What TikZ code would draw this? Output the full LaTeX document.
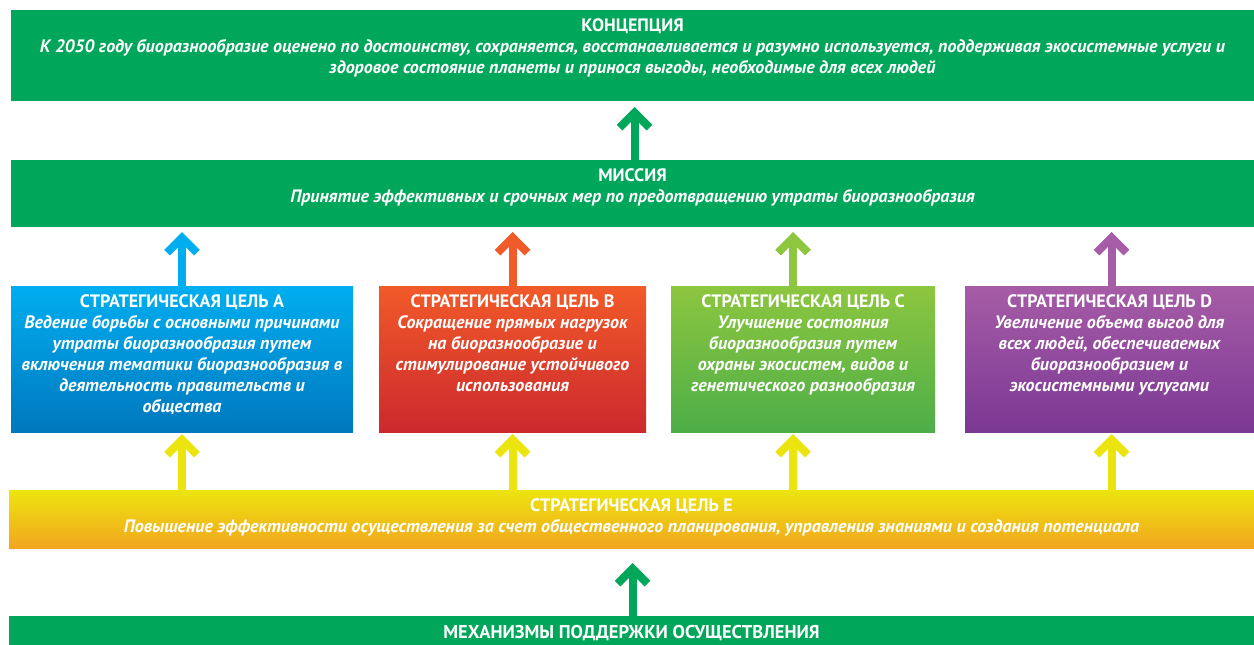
\documentclass[tikz,border=0pt]{standalone}
\usepackage{fontspec}
\setmainfont{PT Sans}
\usetikzlibrary{arrows.meta}
\definecolor{cgreen}{RGB}{0,166,90}
\definecolor{blueT}{RGB}{0,174,239}
\definecolor{blueB}{RGB}{0,120,190}
\definecolor{redT}{RGB}{241,90,41}
\definecolor{redB}{RGB}{204,41,46}
\definecolor{grnT}{RGB}{141,198,63}
\definecolor{grnB}{RGB}{77,174,72}
\definecolor{purT}{RGB}{166,92,166}
\definecolor{purB}{RGB}{123,56,148}
\definecolor{yelT}{RGB}{236,228,15}
\definecolor{yelB}{RGB}{242,166,31}
\begin{document}
\begin{tikzpicture}[x=1pt,y=-1pt,
  box/.style={rectangle, draw=none, inner sep=0pt, outer sep=0pt, anchor=north west},
  txt/.style={anchor=north, inner sep=0pt, align=center, text=white,
    font=\fontsize{18}{21}\selectfont\bfseries\itshape},
  arr/.style={line width=8pt, -{Straight Barb[length=15pt, width=30pt, line width=8pt, sharp]}}
]
\useasboundingbox (0,0) rectangle (1254,645);
% boxes
\node[box, fill=cgreen, minimum width=1243pt, minimum height=91pt] (concept) at (11,10) {};
\node[box, fill=cgreen, minimum width=1243pt, minimum height=67pt] (mission) at (11,160) {};
\node[box, top color=blueT, bottom color=blueB, minimum width=342pt, minimum height=146pt] (ga) at (11,286) {};
\node[box, top color=redT, bottom color=redB, minimum width=267pt, minimum height=146pt] (gb) at (379,286) {};
\node[box, top color=grnT, bottom color=grnB, minimum width=264pt, minimum height=146pt] (gc) at (671,286) {};
\node[box, top color=purT, bottom color=purB, minimum width=289pt, minimum height=146pt] (gd) at (965,286) {};
\node[box, top color=yelT, bottom color=yelB, minimum width=1245pt, minimum height=58pt] (ge) at (9,490) {};
\node[box, fill=cgreen, minimum width=1245pt, minimum height=29pt] (mech) at (9,616) {};
% texts
\node[txt] (conceptT) at ([yshift=-8pt]concept.north) {{\upshape КОНЦЕПЦИЯ}\\
К 2050 году биоразнообразие оценено по достоинству, сохраняется, восстанавливается и разумно используется, поддерживая экосистемные услуги и\\
здоровое состояние планеты и принося выгоды, необходимые для всех людей};
\node[txt] (missionT) at ([yshift=-8pt]mission.north) {{\upshape МИССИЯ}\\
Принятие эффективных и срочных мер по предотвращению утраты биоразнообразия};
\node[txt] (gaT) at ([yshift=-8pt]ga.north) {{\upshape СТРАТЕГИЧЕСКАЯ ЦЕЛЬ A}\\
Ведение борьбы с основными причинами\\ утраты биоразнообразия путем\\ включения тематики биоразнообразия в\\ деятельность правительств и\\ общества};
\node[txt] (gbT) at ([yshift=-8pt]gb.north) {{\upshape СТРАТЕГИЧЕСКАЯ ЦЕЛЬ B}\\
Сокращение прямых нагрузок\\ на биоразнообразие и\\ стимулирование устойчивого\\ использования};
\node[txt] (gcT) at ([yshift=-8pt]gc.north) {{\upshape СТРАТЕГИЧЕСКАЯ ЦЕЛЬ C}\\
Улучшение состояния\\ биоразнообразия путем\\ охраны экосистем, видов и\\ генетического разнообразия};
\node[txt] (gdT) at ([yshift=-8pt]gd.north) {{\upshape СТРАТЕГИЧЕСКАЯ ЦЕЛЬ D}\\
Увеличение объема выгод для\\ всех людей, обеспечиваемых\\ биоразнообразием и\\ экосистемными услугами};
\node[txt] (geT) at ([yshift=-8pt]ge.north) {{\upshape СТРАТЕГИЧЕСКАЯ ЦЕЛЬ E}\\
Повышение эффективности осуществления за счет общественного планирования, управления знаниями и создания потенциала};
\node[txt, font=\fontsize{18.5}{21}\selectfont\bfseries] (mechT) at ([yshift=-9pt]mech.north) {МЕХАНИЗМЫ ПОДДЕРЖКИ ОСУЩЕСТВЛЕНИЯ};
% arrows
\draw[arr, cgreen, shorten >=6pt] ([xshift=2pt]mission.north) -- ([xshift=2pt]concept.south);
\draw[arr, blueT, shorten >=5pt] (ga.north) -- (ga.north |- mission.south);
\draw[arr, redT, shorten >=5pt] (gb.north) -- (gb.north |- mission.south);
\draw[arr, grnT, shorten >=5pt] ([xshift=-10pt]gc.north) -- ([xshift=-10pt]gc.north |- mission.south);
\draw[arr, purT, shorten >=5pt] ([xshift=2pt]gd.north) -- ([xshift=2pt]gd.north |- mission.south);
\draw[arr, yelT, shorten >=2pt] (ga.south |- ge.north) -- (ga.south);
\draw[arr, yelT, shorten >=2pt] (gb.south |- ge.north) -- (gb.south);
\draw[arr, yelT, shorten >=2pt] ([xshift=-10pt]gc.south |- ge.north) -- ([xshift=-10pt]gc.south);
\draw[arr, yelT, shorten >=2pt] ([xshift=2pt]gd.south |- ge.north) -- ([xshift=2pt]gd.south);
\draw[arr, cgreen, shorten >=15pt] ([xshift=1pt]ge.south |- mech.north) -- ([xshift=1pt]ge.south);
\end{tikzpicture}
\end{document}
